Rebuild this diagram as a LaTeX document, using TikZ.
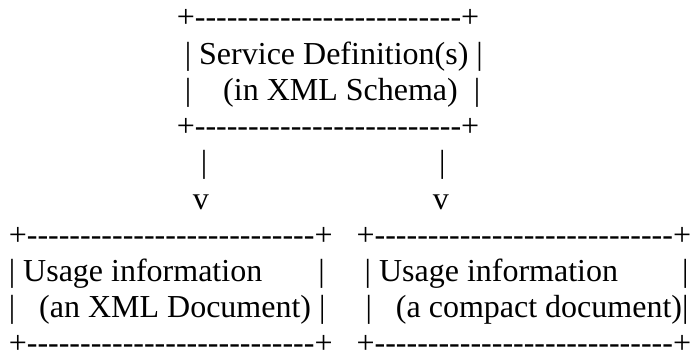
\documentclass[tikz,border=0pt]{standalone}
\usepackage{fontspec}
\newfontfamily\asciifont{Liberation Serif}
\newcount\dashno
\newcommand\dashes[1]{\dashno=0 \loop\ifnum\dashno<#1 -\advance\dashno by 1 \repeat}
\newcommand\blank[1]{\hspace*{#1\fontdimen2\font}}
\tikzset{
  row/.style={anchor=base west, inner sep=0pt, outer sep=0pt,
    font=\asciifont\fontsize{32}{36.2}\selectfont}
}
\begin{document}
\begin{tikzpicture}[x=1pt,y=1pt]
  \useasboundingbox (0,0) rectangle (691,362);
  \draw
    (176.8,334.0) node[row] (topedge){+\dashes{25}+}
    (184.8,297.8) node[row] (svc){| Service Definition(s) |}
    (184.8,261.6) node[row] (schema){|\blank4(in XML Schema)\blank2|}
    (176.8,225.4) node[row] (topfoot){+\dashes{25}+}
    (200.8,189.2) node[row] (stems){|\blank{29}|}
    (192.8,153.0) node[row] (heads){v\blank{28}v}
    (8.8,116.8) node[row] (botedge){+\dashes{27}+\blank3+\dashes{28}+}
    (8.8,80.6) node[row] (usage){| Usage information\blank7|\blank5| Usage information\blank8|}
    (8.8,44.4) node[row] (kinds){|\blank3(an XML Document) |\blank5|\blank3(a compact document)|}
    (8.8,8.2) node[row] (botfoot){+\dashes{27}+\blank3+\dashes{28}+};
\end{tikzpicture}
\end{document}
